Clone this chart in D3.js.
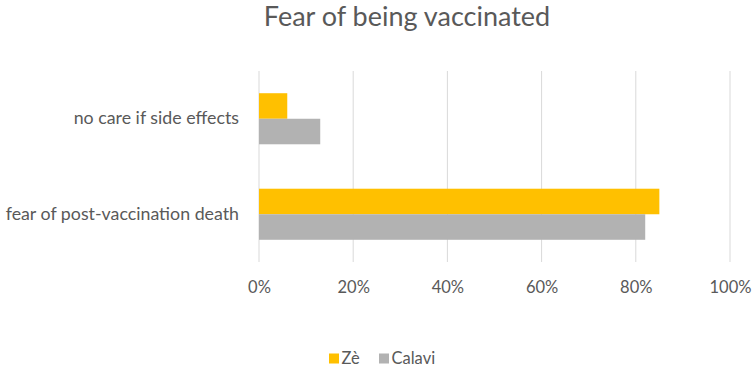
<!DOCTYPE html>
<html>
<head>
<meta charset="utf-8">
<script src="https://cdn.jsdelivr.net/npm/d3@7"></script>
<style>
  body { margin: 0; background: #fff; }
  svg text { font-family: Lato, "Open Sans", sans-serif; fill: #595959; }
</style>
</head>
<body>
<svg id="chart" width="753" height="368"></svg>
<script>
// Dados do gráfico
const categories = ["no care if side effects", "fear of post-vaccination death"];
const seriesNames = ["Zè", "Calavi"];
const zeValues = [6, 85];       // %
const calaviValues = [13, 82];  // %
const xTicks = [0, 20, 40, 60, 80, 100];
const colors = ["#FFC000", "#B2B2B2"];

const svg = d3.select("#chart");

// Escalas
const x = d3.scaleLinear().domain([0, 100]).range([259, 730]);
const y = d3.scaleBand().domain(categories).range([71, 262]).padding(0);
const ySub = d3.scaleBand().domain(seriesNames)
  .range([0, y.bandwidth()]).paddingInner(0).paddingOuter(0.87);

// Título
svg.append("text")
  .attr("x", 407).attr("y", 26)
  .attr("text-anchor", "middle")
  .attr("font-size", "27px")
  .text("Fear of being vaccinated");

// Linhas de grade
svg.append("g").selectAll("line")
  .data(xTicks).join("line")
  .attr("x1", d => x(d)).attr("x2", d => x(d))
  .attr("y1", 71).attr("y2", 262)
  .attr("stroke", "#D9D9D9").attr("stroke-width", 1);

// Eixo X (só rótulos)
const xAxis = svg.append("g")
  .attr("transform", "translate(0,262)")
  .call(d3.axisBottom(x).tickValues(xTicks).tickFormat(d => d + "%").tickSize(0).tickPadding(19));
xAxis.select(".domain").remove();
xAxis.selectAll("text").attr("font-size", "16.5px").attr("fill", null);
xAxis.attr("font-family", null);

// Eixo Y (rótulos das categorias)
const yAxis = svg.append("g")
  .attr("transform", "translate(259,0)")
  .call(d3.axisLeft(y).tickSize(0).tickPadding(20));
yAxis.select(".domain").remove();
yAxis.selectAll("text").attr("font-size", "17.8px").attr("fill", null);
yAxis.attr("font-family", null);

// Barras
const seriesData = [zeValues, calaviValues];
seriesNames.forEach((name, i) => {
  svg.append("g").selectAll("rect")
    .data(categories.map((c, j) => ({ cat: c, value: seriesData[i][j] })))
    .join("rect")
    .attr("x", x(0))
    .attr("y", d => y(d.cat) + ySub(name))
    .attr("width", d => x(d.value) - x(0))
    .attr("height", ySub.bandwidth())
    .attr("fill", colors[i]);
});

// Legenda
const legendX = [329, 379];
const legend = svg.append("g");
seriesNames.forEach((name, i) => {
  legend.append("rect")
    .attr("x", legendX[i]).attr("y", 353.5)
    .attr("width", 10).attr("height", 10)
    .attr("fill", colors[i]);
  legend.append("text")
    .attr("x", legendX[i] + 12.5).attr("y", 364)
    .attr("font-size", "16.5px")
    .text(name);
});
</script>
</body>
</html>
